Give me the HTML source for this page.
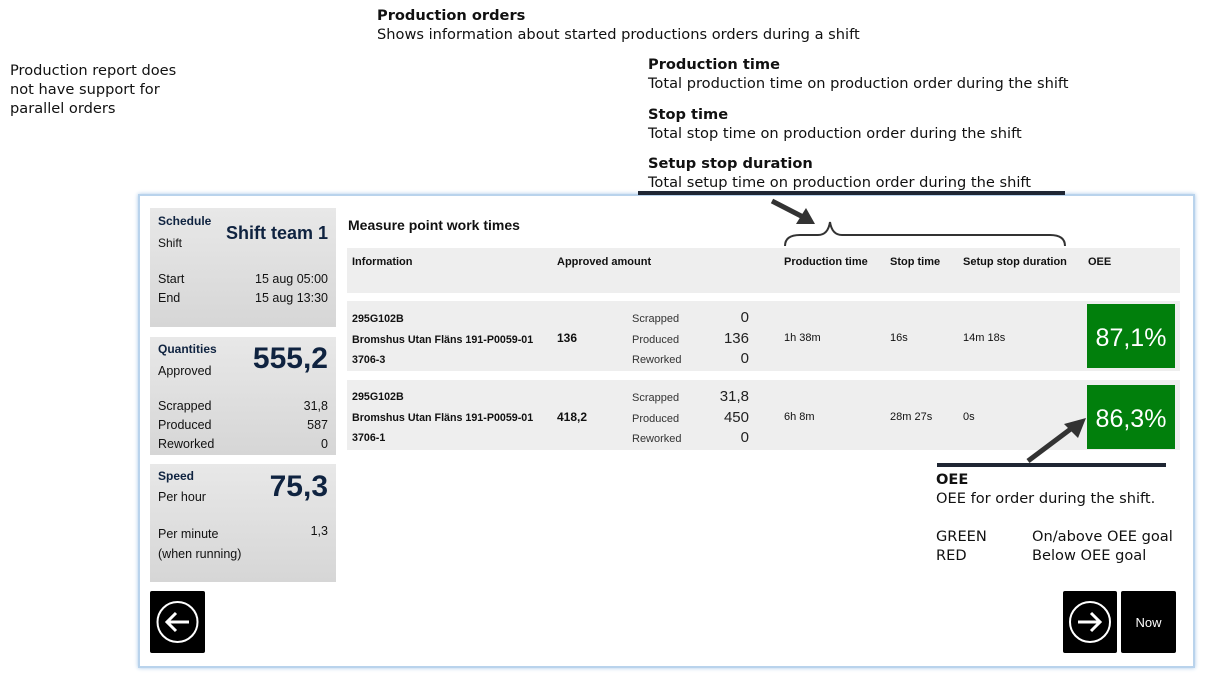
<!DOCTYPE html>
<html><head><meta charset="utf-8"><style>
body{margin:0;width:1205px;height:679px;background:#fff;position:relative;overflow:hidden;font-family:"DejaVu Sans","Liberation Sans",sans-serif;}
.a{position:absolute;white-space:nowrap;}
.t{font-size:14.6px;color:#111;line-height:19px;}
.t b{font-weight:bold;}
.p{font-family:"Liberation Sans",sans-serif;color:#111;}
.card{position:absolute;left:150px;width:186px;background:linear-gradient(#e8e8e8,#d6d6d6);}
.navy{color:#0f2340;}
.bx{position:absolute;background:#000;border-radius:2px;}
</style></head><body>
<div class="a t" style="left:377px;top:6px"><b>Production orders</b><br>Shows information about started productions orders during a shift</div>
<div class="a t" style="left:10px;top:61px">Production report does<br>not have support for<br>parallel orders</div>
<div class="a t" style="left:648px;top:55px"><b>Production time</b><br>Total production time on production order during the shift</div>
<div class="a t" style="left:648px;top:105px"><b>Stop time</b><br>Total stop time on production order during the shift</div>
<div class="a t" style="left:648px;top:154px"><b>Setup stop duration</b><br>Total setup time on production order during the shift</div>

<div style="position:absolute;left:138px;top:194px;width:1053px;height:470px;border:2px solid #b9d3ec;box-shadow:0 0 4px #a8c8e8;background:#fff"></div>
<div style="position:absolute;left:638px;top:191px;width:427px;height:4px;background:#1f2633"></div>

<div class="card" style="top:208px;height:119px"></div>
<div class="a p navy" style="left:158px;top:214px;font-size:12px;font-weight:bold">Schedule</div>
<div class="a p" style="left:158px;top:236px;font-size:12px">Shift</div>
<div class="a p navy" style="right:877px;top:223px;font-size:18px;font-weight:bold">Shift team 1</div>
<div class="a p" style="left:158px;top:270px;font-size:12.5px;line-height:19px">Start<br>End</div>
<div class="a p" style="right:877px;top:270px;font-size:12.5px;line-height:19px;text-align:right">15 aug 05:00<br>15 aug 13:30</div>

<div class="card" style="top:337px;height:118px"></div>
<div class="a p navy" style="left:158px;top:342px;font-size:12px;font-weight:bold">Quantities</div>
<div class="a p" style="left:158px;top:364px;font-size:12.5px">Approved</div>
<div class="a p navy" style="right:877px;top:342px;font-size:30px;font-weight:bold">555,2</div>
<div class="a p" style="left:158px;top:397px;font-size:12.5px;line-height:19px">Scrapped<br>Produced<br>Reworked</div>
<div class="a p" style="right:877px;top:397px;font-size:12.5px;line-height:19px;text-align:right">31,8<br>587<br>0</div>

<div class="card" style="top:464px;height:118px"></div>
<div class="a p navy" style="left:158px;top:469px;font-size:12px;font-weight:bold">Speed</div>
<div class="a p" style="left:158px;top:490px;font-size:12.5px">Per hour</div>
<div class="a p navy" style="right:877px;top:470px;font-size:30px;font-weight:bold">75,3</div>
<div class="a p" style="left:158px;top:524px;font-size:12.5px;line-height:20px">Per minute<br>(when running)</div>
<div class="a p" style="right:877px;top:524px;font-size:12.5px">1,3</div>

<div class="a p" style="left:348px;top:217px;font-size:14px;font-weight:bold">Measure point work times</div>
<div style="position:absolute;left:347px;top:248px;width:833px;height:45px;background:#eee"></div>
<div class="a p" style="top:256px;font-size:11px;font-weight:bold;left:352px">Information</div>
<div class="a p" style="top:256px;font-size:11px;font-weight:bold;left:557px">Approved amount</div>
<div class="a p" style="top:256px;font-size:11px;font-weight:bold;left:784px">Production time</div>
<div class="a p" style="top:256px;font-size:11px;font-weight:bold;left:890px">Stop time</div>
<div class="a p" style="top:256px;font-size:11px;font-weight:bold;left:963px">Setup stop duration</div>
<div class="a p" style="top:256px;font-size:11px;font-weight:bold;left:1088px">OEE</div>

<div style="position:absolute;left:347px;top:301px;width:833px;height:70px;background:#eee"></div>
<div style="position:absolute;left:347px;top:380px;width:833px;height:70px;background:#eee"></div>

<div class="a p" style="left:352px;top:309px;font-size:10.7px;font-weight:bold;line-height:20.5px">295G102B<br>Bromshus Utan Fläns 191-P0059-01<br>3706-3</div>
<div class="a p" style="left:557px;top:331px;font-size:12px;font-weight:bold">136</div>
<div class="a p" style="left:632px;top:309px;font-size:11px;line-height:20.5px;color:#333">Scrapped<br>Produced<br>Reworked</div>
<div class="a p" style="right:456px;top:308px;font-size:15px;line-height:20.5px;text-align:right;color:#222">0<br>136<br>0</div>
<div class="a p" style="left:784px;top:332px;font-size:11px">1h 38m</div>
<div class="a p" style="left:890px;top:332px;font-size:11px">16s</div>
<div class="a p" style="left:963px;top:332px;font-size:11px">14m 18s</div>
<div style="position:absolute;left:1087px;top:304px;width:88px;height:64px;background:#017f0c;color:#fff;font-family:'Liberation Sans',sans-serif;font-size:25px;line-height:68px;text-align:center">87,1%</div>

<div class="a p" style="left:352px;top:387px;font-size:10.7px;font-weight:bold;line-height:20.5px">295G102B<br>Bromshus Utan Fläns 191-P0059-01<br>3706-1</div>
<div class="a p" style="left:557px;top:410px;font-size:12px;font-weight:bold">418,2</div>
<div class="a p" style="left:632px;top:388px;font-size:11px;line-height:20.5px;color:#333">Scrapped<br>Produced<br>Reworked</div>
<div class="a p" style="right:456px;top:387px;font-size:15px;line-height:20.5px;text-align:right;color:#222">31,8<br>450<br>0</div>
<div class="a p" style="left:784px;top:411px;font-size:11px">6h 8m</div>
<div class="a p" style="left:890px;top:411px;font-size:11px">28m 27s</div>
<div class="a p" style="left:963px;top:411px;font-size:11px">0s</div>
<div style="position:absolute;left:1087px;top:385px;width:88px;height:64px;background:#017f0c;color:#fff;font-family:'Liberation Sans',sans-serif;font-size:25px;line-height:68px;text-align:center">86,3%</div>

<div style="position:absolute;left:937px;top:463px;width:229px;height:4px;background:#1f2633"></div>
<div class="a t" style="left:936px;top:470px"><b>OEE</b><br>OEE for order during the shift.</div>
<div class="a t" style="left:936px;top:527px">GREEN<br>RED</div>
<div class="a t" style="left:1032px;top:527px">On/above OEE goal<br>Below OEE goal</div>

<svg style="position:absolute;left:0;top:0" width="1205" height="679">
<path d="M785 246 Q785 235 800 235 L818 235 Q828 235 830 222 Q832 235 842 235 L1050 235 Q1065 235 1065 246" fill="none" stroke="#333" stroke-width="2"/>
<line x1="772" y1="201" x2="805" y2="218" stroke="#333" stroke-width="5"/>
<polygon points="815,224 796,224 806,208" fill="#333"/>
<line x1="1028" y1="461" x2="1072" y2="428" stroke="#333" stroke-width="5"/>
<polygon points="1086,418 1078,438 1064,424" fill="#333"/>
</svg>

<div class="bx" style="left:150px;top:591px;width:55px;height:62px"></div>
<svg style="position:absolute;left:150px;top:591px" width="55" height="62"><circle cx="27.5" cy="31" r="20" fill="none" stroke="#fff" stroke-width="2"/><path d="M39 31H17M26 22L17 31L26 40" fill="none" stroke="#fff" stroke-width="3"/></svg>
<div class="bx" style="left:1063px;top:591px;width:54px;height:62px"></div>
<svg style="position:absolute;left:1063px;top:591px" width="54" height="62"><circle cx="27" cy="31" r="20" fill="none" stroke="#fff" stroke-width="2"/><path d="M15 31H37M28 22L37 31L28 40" fill="none" stroke="#fff" stroke-width="3"/></svg>
<div class="bx" style="left:1121px;top:591px;width:55px;height:62px;color:#fff;font-family:'Liberation Sans',sans-serif;font-size:13px;line-height:64px;text-align:center">Now</div>
</body></html>
